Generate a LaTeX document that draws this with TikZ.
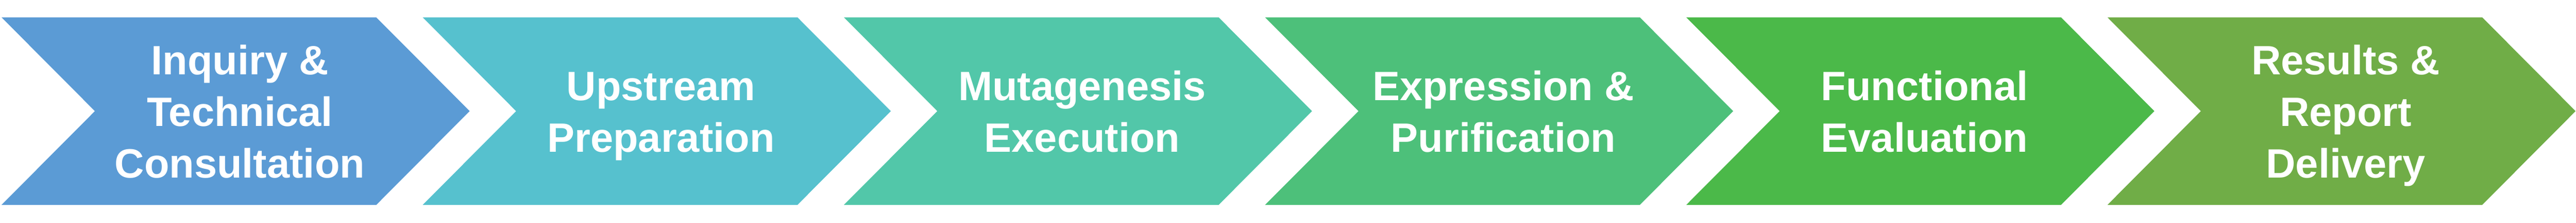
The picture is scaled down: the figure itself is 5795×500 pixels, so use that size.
\documentclass[tikz,border=0pt]{standalone}
\usepackage{fontspec}
\setmainfont{Liberation Sans}
\definecolor{cA}{RGB}{91,155,213}
\definecolor{cB}{RGB}{86,193,206}
\definecolor{cC}{RGB}{82,199,169}
\definecolor{cD}{RGB}{77,192,122}
\definecolor{cE}{RGB}{75,185,73}
\definecolor{cF}{RGB}{112,173,71}
\newcommand{\chevpath}[1]{(#1,461) -- ++(843,0) -- ++(210,-210.5) -- ++(-210,-210.5) -- ++(-843,0) -- ++(210,210.5) -- cycle}
\tikzset{
  chevlabel/.style={anchor=base, inner sep=0pt, text=white,
    font=\fontsize{92}{116}\selectfont\bfseries}
}
\newcommand{\lbl}[1]{\begin{tabular}[t]{@{}c@{}}#1\end{tabular}}
\begin{document}
\begin{tikzpicture}[x=1pt,y=1pt]
\useasboundingbox (0,0) rectangle (5795,500);
\fill[cA] \chevpath{3.5};
\fill[cB] \chevpath{951};
\fill[cC] \chevpath{1898.5};
\fill[cD] \chevpath{2846};
\fill[cE] \chevpath{3793.5};
\fill[cF] \chevpath{4741};
\node[chevlabel] (t1) at (539.5,333) {\lbl{Inquiry \&\\Technical\\Consultation}};
\node[chevlabel] (t2) at (1487,275) {\lbl{Upstream\\Preparation}};
\node[chevlabel] (t3) at (2434.5,275) {\lbl{Mutagenesis\\Execution}};
\node[chevlabel] (t4) at (3382,275) {\lbl{Expression \&\\Purification}};
\node[chevlabel] (t5) at (4329.5,275) {\lbl{Functional\\Evaluation}};
\node[chevlabel] (t6) at (5277,333) {\lbl{Results \&\\Report\\Delivery}};
\end{tikzpicture}
\end{document}
